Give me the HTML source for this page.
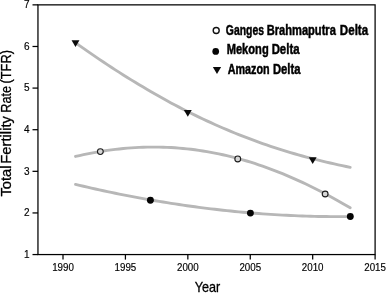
<!DOCTYPE html>
<html><head><meta charset="utf-8"><title>Total Fertility Rate</title>
<style>
html,body{margin:0;padding:0;background:#fff;}
svg text{font-family:"Liberation Sans",Arial,sans-serif;fill:#000;}
.tk{font-size:10px;stroke:#000;stroke-width:0.15px;}
.ax{font-size:14.4px;stroke:#000;stroke-width:0.3px;}
.lg{font-size:15px;font-weight:bold;fill:#000;stroke:#000;stroke-width:0.5px;}
</style></head><body>
<svg width="387" height="293" viewBox="0 0 387 293" style="display:block">
<rect width="387" height="293" fill="#fff"/>
<path d="M75.5,42.78 L79.5,45.60 L83.5,48.40 L87.4,51.17 L91.4,53.92 L95.4,56.64 L99.4,59.34 L103.4,62.01 L107.3,64.65 L111.3,67.26 L115.3,69.85 L119.3,72.40 L123.3,74.93 L127.3,77.43 L131.2,79.90 L135.2,82.34 L139.2,84.74 L143.2,87.12 L147.2,89.47 L151.1,91.79 L155.1,94.07 L159.1,96.33 L163.1,98.55 L167.1,100.74 L171.0,102.90 L175.0,105.02 L179.0,107.12 L183.0,109.18 L187.0,111.21 L191.0,113.20 L194.9,115.16 L198.9,117.09 L202.9,118.99 L206.9,120.86 L210.9,122.69 L214.8,124.49 L218.8,126.25 L222.8,127.99 L226.8,129.69 L230.8,131.36 L234.7,132.99 L238.7,134.60 L242.7,136.17 L246.7,137.71 L250.7,139.21 L254.7,140.69 L258.6,142.13 L262.6,143.54 L266.6,144.93 L270.6,146.28 L274.6,147.60 L278.5,148.88 L282.5,150.14 L286.5,151.37 L290.5,152.57 L294.5,153.74 L298.4,154.88 L302.4,156.00 L306.4,157.08 L310.4,158.14 L314.4,159.17 L318.4,160.18 L322.3,161.15 L326.3,162.10 L330.3,163.03 L334.3,163.93 L338.3,164.81 L342.2,165.66 L346.2,166.49 L350.2,167.30" fill="none" stroke="#b7b7b7" stroke-width="2.9" stroke-linecap="round" stroke-linejoin="round"/>
<path d="M75.5,156.45 L79.5,155.54 L83.5,154.68 L87.4,153.85 L91.4,153.08 L95.4,152.35 L99.4,151.66 L103.4,151.02 L107.3,150.43 L111.3,149.88 L115.3,149.39 L119.3,148.94 L123.3,148.53 L127.3,148.18 L131.2,147.87 L135.2,147.62 L139.2,147.41 L143.2,147.25 L147.2,147.14 L151.1,147.09 L155.1,147.08 L159.1,147.12 L163.1,147.22 L167.1,147.36 L171.0,147.56 L175.0,147.80 L179.0,148.10 L183.0,148.45 L187.0,148.85 L191.0,149.30 L194.9,149.80 L198.9,150.36 L202.9,150.96 L206.9,151.62 L210.9,152.33 L214.8,153.09 L218.8,153.90 L222.8,154.76 L226.8,155.68 L230.8,156.64 L234.7,157.65 L238.7,158.72 L242.7,159.84 L246.7,161.00 L250.7,162.22 L254.7,163.48 L258.6,164.80 L262.6,166.16 L266.6,167.57 L270.6,169.03 L274.6,170.54 L278.5,172.10 L282.5,173.71 L286.5,175.36 L290.5,177.06 L294.5,178.80 L298.4,180.59 L302.4,182.43 L306.4,184.31 L310.4,186.23 L314.4,188.20 L318.4,190.21 L322.3,192.26 L326.3,194.36 L330.3,196.50 L334.3,198.68 L338.3,200.90 L342.2,203.16 L346.2,205.45 L350.2,207.79" fill="none" stroke="#b7b7b7" stroke-width="2.9" stroke-linecap="round" stroke-linejoin="round"/>
<path d="M75.5,184.38 L79.5,185.33 L83.5,186.26 L87.4,187.18 L91.4,188.09 L95.4,188.98 L99.4,189.86 L103.4,190.72 L107.4,191.58 L111.3,192.41 L115.3,193.24 L119.3,194.05 L123.3,194.84 L127.3,195.63 L131.3,196.39 L135.2,197.15 L139.2,197.89 L143.2,198.62 L147.2,199.33 L151.2,200.03 L155.2,200.72 L159.1,201.39 L163.1,202.04 L167.1,202.69 L171.1,203.32 L175.1,203.93 L179.0,204.53 L183.0,205.12 L187.0,205.69 L191.0,206.25 L195.0,206.79 L199.0,207.32 L202.9,207.84 L206.9,208.34 L210.9,208.82 L214.9,209.30 L218.9,209.75 L222.9,210.20 L226.8,210.63 L230.8,211.04 L234.8,211.44 L238.8,211.82 L242.8,212.20 L246.8,212.55 L250.7,212.89 L254.7,213.22 L258.7,213.53 L262.7,213.83 L266.7,214.11 L270.6,214.38 L274.6,214.63 L278.6,214.87 L282.6,215.09 L286.6,215.30 L290.6,215.49 L294.5,215.67 L298.5,215.83 L302.5,215.98 L306.5,216.12 L310.5,216.23 L314.5,216.34 L318.4,216.43 L322.4,216.50 L326.4,216.56 L330.4,216.60 L334.4,216.63 L338.4,216.64 L342.3,216.63 L346.3,216.62 L350.3,216.58" fill="none" stroke="#b7b7b7" stroke-width="2.9" stroke-linecap="round" stroke-linejoin="round"/>
<rect x="37.96" y="4.86" width="337.14" height="249.70" fill="none" stroke="#000" stroke-width="1.25"/>
<line x1="32.5" y1="254.56" x2="38" y2="254.56" stroke="#000" stroke-width="1.25"/>
<text x="29.5" y="257.76" text-anchor="end" class="tk">1</text>
<line x1="32.5" y1="212.94" x2="38" y2="212.94" stroke="#000" stroke-width="1.25"/>
<text x="29.5" y="216.14" text-anchor="end" class="tk">2</text>
<line x1="32.5" y1="171.33" x2="38" y2="171.33" stroke="#000" stroke-width="1.25"/>
<text x="29.5" y="174.53" text-anchor="end" class="tk">3</text>
<line x1="32.5" y1="129.71" x2="38" y2="129.71" stroke="#000" stroke-width="1.25"/>
<text x="29.5" y="132.91" text-anchor="end" class="tk">4</text>
<line x1="32.5" y1="88.09" x2="38" y2="88.09" stroke="#000" stroke-width="1.25"/>
<text x="29.5" y="91.29" text-anchor="end" class="tk">5</text>
<line x1="32.5" y1="46.48" x2="38" y2="46.48" stroke="#000" stroke-width="1.25"/>
<text x="29.5" y="49.68" text-anchor="end" class="tk">6</text>
<line x1="32.5" y1="4.86" x2="38" y2="4.86" stroke="#000" stroke-width="1.25"/>
<text x="29.5" y="8.06" text-anchor="end" class="tk">7</text>
<line x1="63.00" y1="254.5" x2="63.00" y2="259.6" stroke="#000" stroke-width="1.25"/>
<text x="63.00" y="271.3" text-anchor="middle" class="tk" textLength="21.7" lengthAdjust="spacingAndGlyphs">1990</text>
<line x1="125.42" y1="254.5" x2="125.42" y2="259.6" stroke="#000" stroke-width="1.25"/>
<text x="125.42" y="271.3" text-anchor="middle" class="tk" textLength="21.7" lengthAdjust="spacingAndGlyphs">1995</text>
<line x1="187.84" y1="254.5" x2="187.84" y2="259.6" stroke="#000" stroke-width="1.25"/>
<text x="187.84" y="271.3" text-anchor="middle" class="tk" textLength="21.7" lengthAdjust="spacingAndGlyphs">2000</text>
<line x1="250.26" y1="254.5" x2="250.26" y2="259.6" stroke="#000" stroke-width="1.25"/>
<text x="250.26" y="271.3" text-anchor="middle" class="tk" textLength="21.7" lengthAdjust="spacingAndGlyphs">2005</text>
<line x1="312.68" y1="254.5" x2="312.68" y2="259.6" stroke="#000" stroke-width="1.25"/>
<text x="312.68" y="271.3" text-anchor="middle" class="tk" textLength="21.7" lengthAdjust="spacingAndGlyphs">2010</text>
<line x1="375.10" y1="254.5" x2="375.10" y2="259.6" stroke="#000" stroke-width="1.25"/>
<text x="375.10" y="271.3" text-anchor="middle" class="tk" textLength="21.7" lengthAdjust="spacingAndGlyphs">2015</text>
<path d="M71.55,40.30 L79.45,40.30 L75.50,47.00Z" fill="#0a0a0a"/>
<path d="M183.85,110.00 L191.75,110.00 L187.80,116.70Z" fill="#0a0a0a"/>
<path d="M308.75,157.20 L316.65,157.20 L312.70,163.90Z" fill="#0a0a0a"/>
<circle cx="100.35" cy="151.60" r="2.9" fill="#d6d6d6" stroke="#1c1c1c" stroke-width="1.1"/>
<circle cx="237.75" cy="158.95" r="2.9" fill="#d6d6d6" stroke="#1c1c1c" stroke-width="1.1"/>
<circle cx="325.15" cy="194.00" r="2.9" fill="#d6d6d6" stroke="#1c1c1c" stroke-width="1.1"/>
<circle cx="150.40" cy="200.25" r="3.45" fill="#050505"/>
<circle cx="250.40" cy="213.10" r="3.45" fill="#050505"/>
<circle cx="350.30" cy="216.50" r="3.45" fill="#050505"/>
<text x="194.77" y="291.7" class="ax" textLength="25.51" lengthAdjust="spacingAndGlyphs">Year</text>
<text transform="translate(10.8,0) rotate(-90)" y="0" class="ax"><tspan x="-196.48" textLength="30.93" lengthAdjust="spacingAndGlyphs">Total</tspan> <tspan x="-163.65" textLength="47.55" lengthAdjust="spacingAndGlyphs">Fertility</tspan> <tspan x="-112.69" textLength="26.72" lengthAdjust="spacingAndGlyphs">Rate</tspan> <tspan x="-83.58" textLength="33.52" lengthAdjust="spacingAndGlyphs">(TFR)</tspan></text>
<circle cx="216.2" cy="30.5" r="3.0" fill="#fff" stroke="#111" stroke-width="1.4"/>
<circle cx="215.70" cy="51.40" r="3.35" fill="#050505"/>
<path d="M212.85,67.10 L221.15,67.10 L217.00,74.00Z" fill="#0a0a0a"/>
<text y="34.5" class="lg"><tspan x="225.87" textLength="38.09" lengthAdjust="spacingAndGlyphs">Ganges</tspan> <tspan x="266.66" textLength="69.23" lengthAdjust="spacingAndGlyphs">Brahmaputra</tspan> <tspan x="339.83" textLength="28.32" lengthAdjust="spacingAndGlyphs">Delta</tspan></text>
<text y="54.4" class="lg"><tspan x="226.66" textLength="42.02" lengthAdjust="spacingAndGlyphs">Mekong</tspan> <tspan x="271.64" textLength="27.91" lengthAdjust="spacingAndGlyphs">Delta</tspan></text>
<text y="74.2" class="lg"><tspan x="227.73" textLength="41.92" lengthAdjust="spacingAndGlyphs">Amazon</tspan> <tspan x="272.95" textLength="27.50" lengthAdjust="spacingAndGlyphs">Delta</tspan></text>
</svg>
</body></html>
